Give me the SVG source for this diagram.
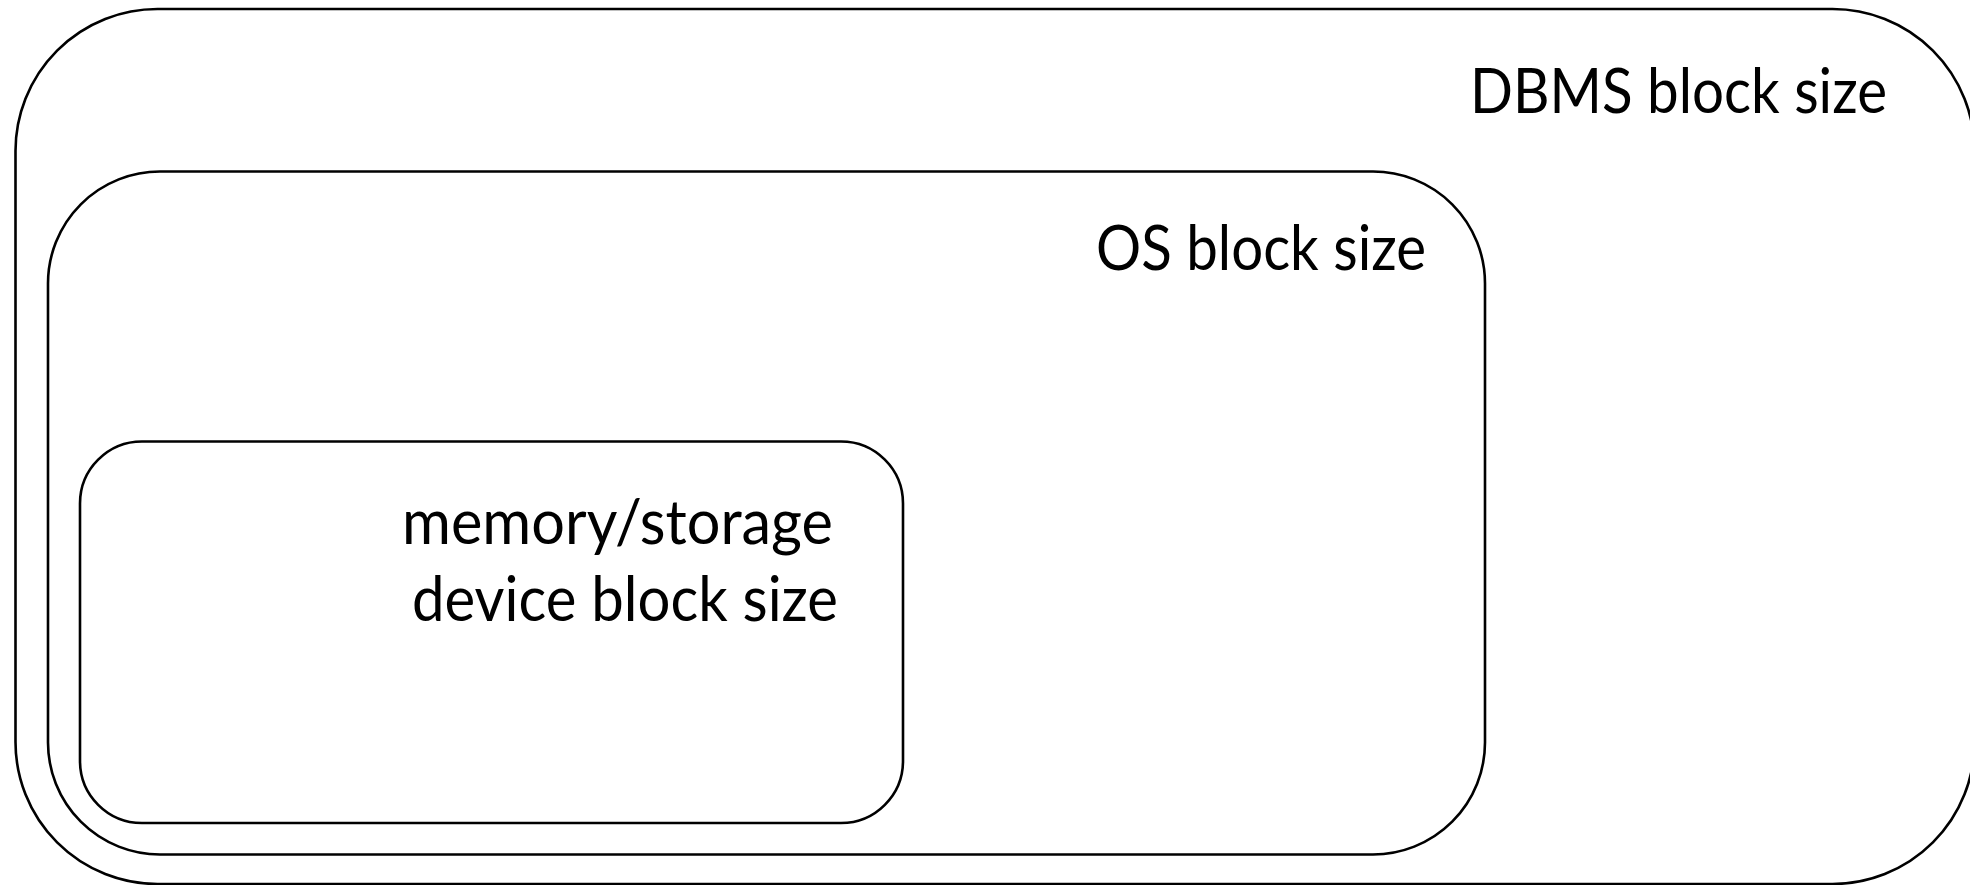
<svg xmlns="http://www.w3.org/2000/svg" width="1970" height="885" viewBox="0 0 1970 885">
<style>
.box{fill:none;stroke:#000;stroke-width:2.6}
.lbl{font-family:Lato,"Open Sans","Liberation Sans",sans-serif;font-size:62px;fill:#000;text-anchor:end}
</style>
<rect width="1970" height="885" fill="#fff"/>
<g id="dbms">
<rect class="box" x="15.5" y="9" width="1959" height="875" rx="142" ry="142"/>
<text class="lbl" x="1887" y="113" textLength="417" lengthAdjust="spacingAndGlyphs">DBMS block size</text>
</g>
<g id="os">
<rect class="box" x="48" y="171.5" width="1437" height="683" rx="112" ry="112"/>
<text class="lbl" x="1426" y="270" textLength="330" lengthAdjust="spacingAndGlyphs">OS block size</text>
</g>
<g id="device">
<rect class="box" x="80" y="441.5" width="823" height="381.5" rx="62" ry="62"/>
<text class="lbl" x="833" y="544" textLength="431" lengthAdjust="spacingAndGlyphs">memory/storage</text>
<text class="lbl" x="838" y="621" textLength="426" lengthAdjust="spacingAndGlyphs">device block size</text>
</g>
<g id="connectors"/>
</svg>
